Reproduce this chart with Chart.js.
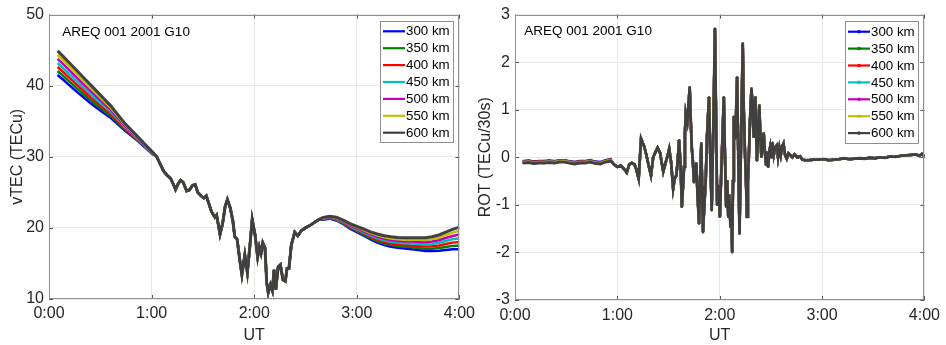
<!DOCTYPE html>
<html>
<head>
<meta charset="utf-8">
<script src="https://cdn.jsdelivr.net/npm/chart.js@4"></script>
<style>
  body { margin: 0; background: #fff; }
  #wrap { position: relative; width: 946px; height: 345px; overflow: hidden; }
  .panel { position: absolute; top: 0; width: 480px; height: 345px; }
</style>
</head>
<body>
<div id="wrap">
  <div class="panel" style="left:0"><canvas id="vtecChart"></canvas></div>
  <div class="panel" style="left:466px"><canvas id="rotChart"></canvas></div>
</div>
<script>
// ---- data (time in minutes after 0:00 UT) ----
const heightLabels = ['300 km', '350 km', '400 km', '450 km', '500 km', '550 km', '600 km'];
const lineColors = ['#0000ff', '#008000', '#ff0000', '#00bfbf', '#bf00bf', '#bfbf00', '#404040'];
const stationLabel = 'AREQ 001 2001 G10';
const timeTicks = ['0:00', '1:00', '2:00', '3:00', '4:00'];

// vTEC: start of pass, where the heights spread apart
const headMinutes = [5, 8, 12, 16, 20, 24, 28, 32, 36, 40, 44, 48, 52, 56, 60];
const vtecHead300 = [41.5, 40.9, 40.05, 39.2, 38.4, 37.6, 36.85, 36.15, 35.5, 34.65, 33.75, 33.0, 32.2, 31.35, 30.45];
const vtecHead350 = [42.07, 41.45, 40.58, 39.7, 38.87, 38.03, 37.24, 36.49, 35.78, 34.88, 33.93, 33.13, 32.3, 31.43, 30.51];
const vtecHead400 = [42.63, 42.0, 41.1, 40.2, 39.33, 38.47, 37.63, 36.83, 36.07, 35.1, 34.1, 33.27, 32.4, 31.5, 30.57];
const vtecHead450 = [43.2, 42.55, 41.63, 40.7, 39.8, 38.9, 38.03, 37.18, 36.35, 35.33, 34.28, 33.4, 32.5, 31.58, 30.63];
const vtecHead500 = [43.77, 43.1, 42.15, 41.2, 40.27, 39.33, 38.42, 37.52, 36.63, 35.55, 34.45, 33.53, 32.6, 31.65, 30.68];
const vtecHead550 = [44.33, 43.65, 42.68, 41.7, 40.73, 39.77, 38.81, 37.86, 36.92, 35.78, 34.63, 33.67, 32.7, 31.73, 30.74];
const vtecHead600 = [44.9, 44.2, 43.2, 42.2, 41.2, 40.2, 39.2, 38.2, 37.2, 36.0, 34.8, 33.8, 32.8, 31.8, 30.8];

// vTEC: middle of pass, all heights on top of each other
const midMinutes = [63, 65, 67, 69, 71, 73, 74, 75.5, 77, 78.5, 80.5, 82, 84, 85.5, 87, 89, 90.5, 92, 93.5, 95,
  97, 98, 100, 101.5, 103, 104.3, 106, 107.5, 108.6, 110, 111.5, 112.8, 114.5, 116, 117.5, 118.8, 120.5, 122, 123, 124,
  125, 126.3, 127.3, 128.2, 129.5, 130.6, 131.6, 132.6, 134, 135.3, 136.8, 138.2, 139.2, 140.3, 141.7, 143.7, 145.5, 147.5, 150, 153,
  156, 158];
const vtecMid = [30.0, 29.0, 28.0, 27.4, 27.0, 26.0, 25.4, 26.2, 26.7, 26.4, 25.2, 25.3, 26.0, 26.1, 25.0, 24.5, 24.2, 24.5, 23.4, 22.3,
  21.5, 21.8, 19.1, 20.6, 23.0, 24.0, 22.8, 21.0, 18.8, 18.4, 15.6, 13.4, 16.2, 13.7, 17.5, 21.2, 19.0, 15.9, 17.3, 16.4,
  17.9, 17.2, 12.3, 10.9, 12.0, 11.2, 14.1, 11.3, 14.5, 14.8, 12.7, 12.5, 14.3, 14.3, 17.6, 19.4, 18.9, 19.6, 20.0, 20.4,
  20.9, 21.2];

// vTEC: end of pass, heights spread apart again
const tailMinutes = [160, 164, 168, 172, 176, 180, 184, 188, 192, 196, 200, 204, 208, 212, 216, 220, 224, 228, 232, 236, 240];
const vtecTail300 = [21.15, 21.3, 21.05, 20.55, 19.9, 19.4, 18.9, 18.4, 17.95, 17.6, 17.35, 17.2, 17.1, 17.0, 16.9, 16.75, 16.75, 16.8, 16.9, 17.0, 17.0];
const vtecTail350 = [21.2, 21.36, 21.13, 20.64, 20.02, 19.53, 19.06, 18.58, 18.15, 17.82, 17.58, 17.44, 17.35, 17.27, 17.18, 17.06, 17.08, 17.17, 17.32, 17.47, 17.52];
const vtecTail400 = [21.25, 21.42, 21.2, 20.73, 20.13, 19.67, 19.22, 18.75, 18.35, 18.03, 17.82, 17.68, 17.6, 17.53, 17.47, 17.37, 17.42, 17.53, 17.73, 17.93, 18.03];
const vtecTail450 = [21.3, 21.48, 21.28, 20.83, 20.25, 19.8, 19.38, 18.93, 18.55, 18.25, 18.05, 17.93, 17.85, 17.8, 17.75, 17.68, 17.75, 17.9, 18.15, 18.4, 18.55];
const vtecTail500 = [21.35, 21.53, 21.35, 20.92, 20.37, 19.93, 19.53, 19.1, 18.75, 18.47, 18.28, 18.17, 18.1, 18.07, 18.03, 17.98, 18.08, 18.27, 18.57, 18.87, 19.07];
const vtecTail550 = [21.4, 21.59, 21.43, 21.01, 20.48, 20.07, 19.69, 19.28, 18.95, 18.68, 18.52, 18.41, 18.35, 18.33, 18.32, 18.29, 18.42, 18.63, 18.98, 19.33, 19.58];
const vtecTail600 = [21.45, 21.65, 21.5, 21.1, 20.6, 20.2, 19.85, 19.45, 19.15, 18.9, 18.75, 18.65, 18.6, 18.6, 18.6, 18.6, 18.75, 19.0, 19.4, 19.8, 20.1];

// ROT: quiet start, small offset between heights
const rotHeadMinutes = [5, 8, 11, 14, 17, 20, 23, 26, 29, 32, 35, 38, 41, 44, 47, 50, 53, 56];
const rotHead300 = [-0.08, -0.07, -0.09, -0.08, -0.08, -0.07, -0.08, -0.06, -0.06, -0.08, -0.10, -0.08, -0.08, -0.06, -0.09, -0.10, -0.06, -0.04];
const rotHead350 = [-0.09, -0.08, -0.10, -0.09, -0.09, -0.08, -0.09, -0.07, -0.07, -0.09, -0.11, -0.09, -0.09, -0.07, -0.10, -0.11, -0.07, -0.05];
const rotHead400 = [-0.09, -0.08, -0.10, -0.09, -0.09, -0.08, -0.09, -0.07, -0.07, -0.09, -0.11, -0.09, -0.09, -0.07, -0.10, -0.11, -0.07, -0.05];
const rotHead450 = [-0.10, -0.09, -0.11, -0.10, -0.10, -0.09, -0.10, -0.08, -0.08, -0.10, -0.12, -0.10, -0.10, -0.08, -0.11, -0.12, -0.08, -0.06];
const rotHead500 = [-0.11, -0.10, -0.12, -0.11, -0.11, -0.10, -0.11, -0.09, -0.09, -0.11, -0.13, -0.11, -0.11, -0.09, -0.12, -0.13, -0.09, -0.07];
const rotHead550 = [-0.11, -0.10, -0.12, -0.11, -0.11, -0.10, -0.11, -0.09, -0.09, -0.11, -0.13, -0.11, -0.11, -0.09, -0.12, -0.13, -0.09, -0.07];
const rotHead600 = [-0.12, -0.11, -0.13, -0.12, -0.12, -0.11, -0.12, -0.10, -0.10, -0.12, -0.14, -0.12, -0.12, -0.10, -0.13, -0.14, -0.10, -0.08];

// ROT: scintillation burst and the rest of the pass (same for all heights)
const rotMinutes = [58, 60, 62, 64, 65.5, 67, 68.5, 70, 71, 72.5,
  73.9, 75.8, 77, 78.5, 79.7, 81, 82.5, 83.6, 85, 86.9,
  88, 89.2, 90.4, 91.5, 92.7, 93.6, 94.6, 95.3, 96.2, 97.1,
  97.8, 98.5, 99.1, 99.6, 100.1, 101, 101.6, 102.4, 103, 103.6,
  104.3, 104.9, 105.6, 106.3, 107, 107.9, 108.6, 109.2, 109.7, 110.2,
  111, 111.8, 112.5, 113.7, 114.4, 115.3, 116.5, 117.2, 118.5, 119.3,
  120.1, 121.2, 122.4, 123.1, 123.8, 124.4, 125, 125.6, 126.3, 126.8,
  127.3, 127.8, 128.3, 129.2, 130.2, 130.9, 131.6, 132.5, 133.5, 134.1,
  134.7, 135.4, 136, 136.5, 137, 137.8, 138.6, 139.3, 139.9, 140.4,
  140.9, 141.3, 141.8, 142.5, 143.2, 143.8, 144.4, 145.1, 145.8, 146.5,
  147.2, 147.7, 148.4, 149, 149.6, 150.3, 151, 151.7, 152.5, 153.5,
  154.2, 155, 155.8, 156.5, 157.4, 158.3, 159.3, 160.3, 161.3, 162.5,
  164, 165.5, 167.1, 168.5, 170, 172, 175, 178, 181, 184,
  187, 190, 193, 196, 199, 202, 205, 208, 211, 214,
  217, 220, 223, 226, 229, 232, 235, 237, 238.5, 240];
const rotRest = [-0.15, -0.2, -0.17, -0.25, -0.32, -0.15, -0.12, -0.15, -0.24, -0.45,
  0.39, 0.22, 0.05, -0.2, -0.38, 0.0, 0.12, 0.2, 0.1, -0.3,
  -0.15, 0.0, 0.18, -0.1, -0.66, -0.45, -0.38, -0.1, 0.36, -0.2,
  -1.04, -0.6, -0.2, 0.5, 0.92, 0.75, 1.05, 1.47, 0.8, 0.22,
  -0.1, -0.52, -0.3, -0.13, -0.8, -1.39, -0.4, 0.29, -0.6, -1.57,
  -1.0, -0.48, 0.4, 1.26, 0.1, -1.11, 1.1, 2.7, -1.0, -0.6,
  -1.25, 0.0, 1.26, 0.0, -1.04, -0.5, -1.25, -0.8, -1.46, -1.0,
  -1.99, -0.5, 0.85, 0.4, 1.68, 0.0, -1.6, 0.3, 2.39, 1.0,
  0.22, -0.5, -1.25, -0.5, -0.06, 0.8, 1.44, 1.1, 0.43, 0.9,
  1.26, 0.6, -0.06, 0.5, 1.09, 0.5, 0.01, 0.3, 0.5, 0.1,
  -0.15, 0.1, -0.2, 0.1, 0.22, 0.0, 0.3, 0.05, 0.2, 0.25,
  0.0, 0.2, 0.05, 0.22, 0.29, 0.05, -0.03, 0.08, 0.05, 0.0,
  0.06, 0.0, 0.02, -0.05, -0.06, -0.06, -0.05, -0.05, -0.04, -0.06,
  -0.05, -0.04, -0.02, -0.04, -0.03, -0.02, -0.03, -0.01, -0.02, 0.0,
  -0.01, 0.02, 0.01, 0.03, 0.04, 0.05, 0.06, 0.03, 0.07, 0.02];

// ---- build chart series ----
const vtecTimes = [...headMinutes, ...midMinutes, ...tailMinutes];
const vtecValues = [
  [...vtecHead300, ...vtecMid, ...vtecTail300],
  [...vtecHead350, ...vtecMid, ...vtecTail350],
  [...vtecHead400, ...vtecMid, ...vtecTail400],
  [...vtecHead450, ...vtecMid, ...vtecTail450],
  [...vtecHead500, ...vtecMid, ...vtecTail500],
  [...vtecHead550, ...vtecMid, ...vtecTail550],
  [...vtecHead600, ...vtecMid, ...vtecTail600],
];
const rotTimes = [...rotHeadMinutes, ...rotMinutes];
const rotValues = [rotHead300, rotHead350, rotHead400, rotHead450, rotHead500, rotHead550, rotHead600]
  .map((head) => [...head, ...rotRest]);

function toPoints(times, values) {
  return times.map((t, i) => ({ x: t, y: values[i] }));
}

const FONT = '"Liberation Sans", Arial, Helvetica, sans-serif';
Chart.defaults.font.family = FONT;
Chart.defaults.color = '#262626';

// MATLAB-like frame, inward ticks, station text and legend inside the axes
const matlabAxes = {
  id: 'matlabAxes',
  afterDraw(chart, args, opts) {
    const { ctx, chartArea: a, scales } = chart;
    ctx.save();
    // inward tick marks on all four sides
    ctx.strokeStyle = '#555';
    ctx.lineWidth = 1;
    ctx.beginPath();
    scales.x.ticks.forEach((t) => {
      const px = Math.round(scales.x.getPixelForValue(t.value)) + 0.5;
      ctx.moveTo(px, a.bottom); ctx.lineTo(px, a.bottom - 4);
      ctx.moveTo(px, a.top); ctx.lineTo(px, a.top + 4);
    });
    scales.y.ticks.forEach((t) => {
      const py = Math.round(scales.y.getPixelForValue(t.value)) + 0.5;
      ctx.moveTo(a.left, py); ctx.lineTo(a.left + 4, py);
      ctx.moveTo(a.right, py); ctx.lineTo(a.right - 4, py);
    });
    ctx.stroke();
    // box
    ctx.strokeStyle = '#8f8f8f';
    ctx.strokeRect(Math.round(a.left) + 0.5, Math.round(a.top) + 0.5,
      Math.round(a.width) - 1, Math.round(a.height) - 1);

    // station text
    ctx.fillStyle = '#000';
    ctx.font = '13.5px ' + FONT;
    ctx.textBaseline = 'alphabetic';
    ctx.fillText(stationLabel, a.left + opts.textDx, a.top + opts.textDy);

    // legend box
    const sets = chart.data.datasets;
    const boxW = 73, boxH = opts.legendH;
    const x0 = Math.round(a.right - 6.5 - boxW), y0 = Math.round(a.top + 6);
    ctx.fillStyle = '#fff';
    ctx.fillRect(x0, y0, boxW, boxH);
    ctx.strokeStyle = '#8f8f8f';
    ctx.strokeRect(x0 + 0.5, y0 + 0.5, boxW, boxH);
    ctx.font = '13.3px ' + FONT;
    ctx.textBaseline = 'middle';
    sets.forEach((ds, i) => {
      const y = y0 + opts.rowTop + i * 16.9;
      ctx.strokeStyle = ds.borderColor;
      ctx.lineWidth = 2.2;
      ctx.beginPath();
      ctx.moveTo(x0 + 3, y); ctx.lineTo(x0 + 25, y);
      ctx.stroke();
      if (opts.marker) {
        ctx.fillStyle = ds.borderColor;
        ctx.beginPath();
        ctx.arc(x0 + 14, y, 1.8, 0, Math.PI * 2);
        ctx.fill();
      }
      ctx.fillStyle = '#000';
      ctx.fillText(ds.label, x0 + 26, y + 0.5);
    });
    ctx.restore();
  }
};

function makeChart(canvasId, cfg) {
  const datasets = heightLabels.map((label, i) => ({
    label: label,
    data: toPoints(cfg.times, cfg.values[i]),
    borderColor: lineColors[i],
    backgroundColor: lineColors[i],
    borderWidth: i === 6 ? cfg.topWidth : cfg.width,
    pointRadius: cfg.pointRadius,
    pointBorderWidth: 0,
    tension: 0,
    order: heightLabels.length - 1 - i, // 600 km drawn last, on top
  }));

  return new Chart(document.getElementById(canvasId), {
    type: 'line',
    data: { datasets: datasets },
    options: {
      responsive: true,
      maintainAspectRatio: false,
      animation: false,
      devicePixelRatio: 1,
      layout: { padding: { top: cfg.top, right: cfg.right, bottom: 0, left: 0 } },
      plugins: {
        legend: { display: false },
        tooltip: { enabled: false },
        matlabAxes: cfg.decor,
      },
      scales: {
        x: {
          type: 'linear',
          min: 0,
          max: 240,
          ticks: {
            stepSize: 60,
            maxRotation: 0,
            padding: cfg.xTickPad,
            font: { size: 16 },
            callback: (v) => timeTicks[v / 60],
          },
          grid: { color: '#e8e8e8', drawTicks: false },
          border: { display: false },
          title: { display: true, text: 'UT', font: { size: 16 }, padding: { top: 0, bottom: cfg.utPad } },
          afterFit: (s) => { s.height = cfg.xHeight; },
        },
        y: {
          min: cfg.yMin,
          max: cfg.yMax,
          ticks: { stepSize: cfg.yStep, padding: 5, font: { size: 16 } },
          grid: { color: '#e8e8e8', drawTicks: false },
          border: { display: false },
          title: { display: true, text: cfg.yTitle, font: { size: 16 }, padding: { top: cfg.yTitlePad, bottom: 0 } },
          afterFit: (s) => { s.width = 49; },
        },
      },
    },
    plugins: [matlabAxes],
  });
}

makeChart('vtecChart', {
  times: vtecTimes,
  values: vtecValues,
  width: 2.5,
  topWidth: 3,
  pointRadius: 0,
  top: 13,
  right: 20,
  xHeight: 46,
  xTickPad: 5,
  utPad: 0,
  yMin: 10, yMax: 50, yStep: 10,
  yTitle: 'vTEC (TECu)',
  yTitlePad: 8,
  decor: { textDx: 13.3, textDy: 21.3, legendH: 121, rowTop: 10.3, marker: false },
});

makeChart('rotChart', {
  times: rotTimes,
  values: rotValues,
  width: 2.5,
  topWidth: 2.8,
  pointRadius: 1.2,
  top: 14,
  right: 19,
  xHeight: 45,
  xTickPad: 6,
  utPad: 0,
  yMin: -3, yMax: 3, yStep: 1,
  yTitle: 'ROT (TECu/30s)',
  yTitlePad: 10,
  decor: { textDx: 9.3, textDy: 20.7, legendH: 122, rowTop: 10.7, marker: true },
});
</script>
</body>
</html>
